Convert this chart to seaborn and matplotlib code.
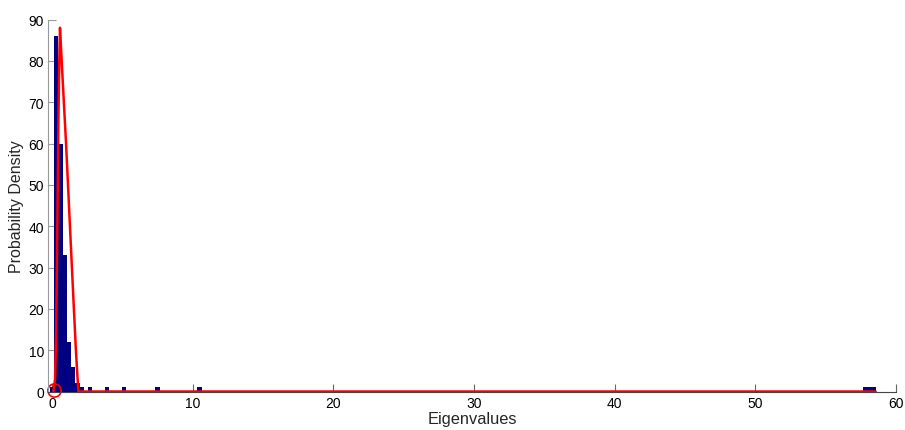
import numpy as np
import pandas as pd
import matplotlib
matplotlib.use('Agg')
import matplotlib.pyplot as plt
import seaborn as sns

# histogram grid: left edge of first bin, bin width, number of bins
bin_start = -0.14
bin_width = 0.2995
n_bins = 196

# non-empty bins (index into the grid) and their heights
bin_index = [0, 1, 2, 3, 4, 5, 6, 7, 9, 13, 17, 25, 35, 193, 194, 195]
bin_height = [1, 86, 60, 33, 12, 6, 2, 1, 1, 1, 1, 1, 1, 1, 1, 1]

# theoretical density curve (red)
curve_x = [0.10, 0.22, 0.30, 0.38, 0.46, 0.52, 0.57, 0.75, 1.00, 1.25, 1.50, 1.70, 1.82, 1.88, 58.56]
curve_y = [0.0, 3.0, 15.0, 40.0, 66.0, 80.0, 88.0, 76.0, 60.0, 42.0, 24.0, 10.0, 3.0, 0.0, 0.0]

# circle marker
marker_x = [0.14]
marker_y = [0.3]


def main():
    sns.set_style('white')
    plt.rcParams['font.family'] = ['Liberation Sans', 'DejaVu Sans']

    fig = plt.figure(figsize=(9.05, 4.31), dpi=100)
    ax = fig.add_axes([0.0534, 0.0893, 0.9366, 0.8631])

    edges = list(bin_start + bin_width * np.arange(n_bins + 1))
    df = pd.DataFrame({'value': [bin_start + bin_width * (k + 0.5) for k in bin_index],
                       'height': bin_height})

    sns.histplot(data=df, x='value', weights='height', bins=edges, color='#000080',
                 alpha=1, linewidth=0, ax=ax)
    sns.lineplot(x=curve_x, y=curve_y, color='red', linewidth=1.8, sort=False, ax=ax)
    ax.plot(marker_x, marker_y, 'o', ms=9.5, mfc='none', mec='red', mew=1.2, clip_on=False)

    ax.set_xlim(-0.26, 60)
    ax.set_ylim(0, 90)
    ax.set_xticks(range(0, 61, 10))
    ax.set_yticks(range(0, 91, 10))

    for s in ['top', 'right']:
        ax.spines[s].set_visible(False)
    ax.spines['left'].set_color('#999999')
    ax.spines['bottom'].set_color('#444444')
    ax.spines['left'].set_linewidth(0.8)
    ax.spines['bottom'].set_linewidth(0.8)
    ax.tick_params(axis='both', direction='in', length=6, width=0.8,
                   labelsize=10, labelcolor='black', pad=3,
                   bottom=True, left=True)
    ax.tick_params(axis='y', color='#999999')
    ax.tick_params(axis='x', color='#666666')

    ax.set_xlabel('Eigenvalues', fontsize=11.8, labelpad=1)
    ax.set_ylabel('Probability Density', fontsize=11.5, labelpad=3)

    fig.savefig('out.png', dpi=100)
    plt.close(fig)


if __name__ == '__main__':
    main()
